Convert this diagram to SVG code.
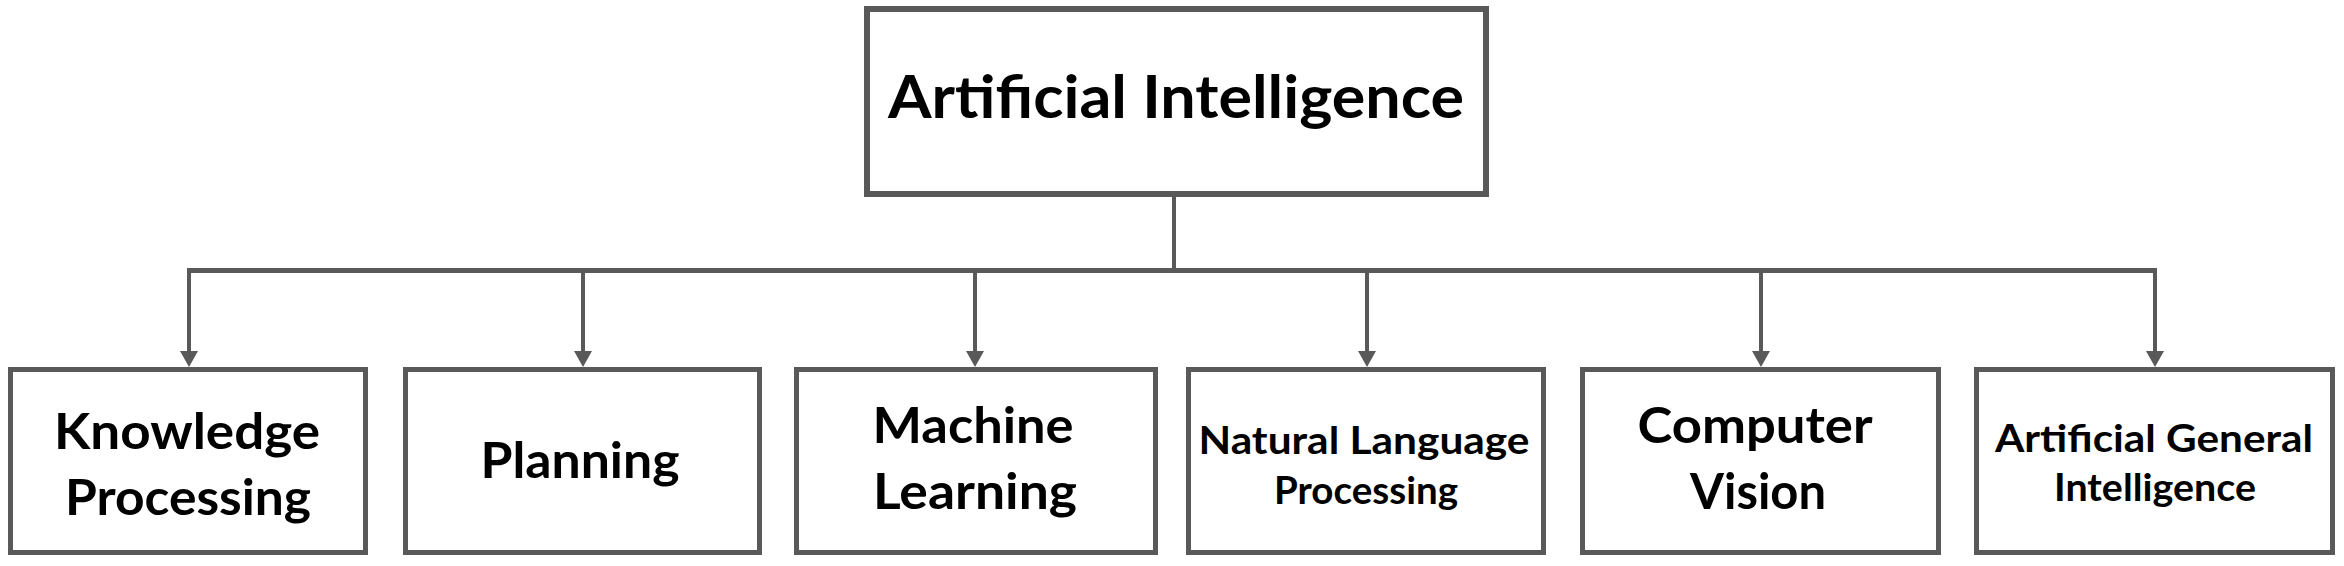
<svg xmlns="http://www.w3.org/2000/svg" width="2344" height="566" viewBox="0 0 2344 566">
<defs>
<style>
.box{fill:#ffffff;stroke:#595959;stroke-width:5}
.top{fill:#ffffff;stroke:#595959;stroke-width:6}
.wire{fill:none;stroke:#595959;stroke-width:4}
.bar{fill:none;stroke:#595959;stroke-width:5}
text{font-family:Lato,"Liberation Sans",sans-serif;font-weight:bold;fill:#000000;text-anchor:middle}
.big{font-size:60px}
.mid{font-size:50px}
.sm{font-size:38px}
</style>
</defs>
<rect width="2344" height="566" fill="#ffffff"/>
<g id="connectors">
<line class="wire" x1="1174" y1="196" x2="1174" y2="270"/>
<line class="bar" x1="187" y1="270.5" x2="2157" y2="270.5"/>
<path class="wire" d="M189,272 V352"/>
<polygon points="180,351 198,351 189,367" fill="#595959"/>
<path class="wire" d="M583,272 V352"/>
<polygon points="574,351 592,351 583,367" fill="#595959"/>
<path class="wire" d="M975,272 V352"/>
<polygon points="966,351 984,351 975,367" fill="#595959"/>
<path class="wire" d="M1367,272 V352"/>
<polygon points="1358,351 1376,351 1367,367" fill="#595959"/>
<path class="wire" d="M1761,272 V352"/>
<polygon points="1752,351 1770,351 1761,367" fill="#595959"/>
<path class="wire" d="M2155,272 V352"/>
<polygon points="2146,351 2164,351 2155,367" fill="#595959"/>
</g>
<g id="ai">
<rect class="top" x="867" y="9" width="619" height="185"/>
<text class="big" x="1176" y="118" textLength="576" lengthAdjust="spacingAndGlyphs">Artificial Intelligence</text>
</g>
<g id="kp">
<rect class="box" x="10.5" y="369.5" width="355" height="183"/>
<text class="mid" x="187" y="449" textLength="266" lengthAdjust="spacingAndGlyphs">Knowledge</text>
<text class="mid" x="188" y="515" textLength="246" lengthAdjust="spacingAndGlyphs">Processing</text>
</g>
<g id="planning">
<rect class="box" x="405.5" y="369.5" width="354" height="183"/>
<text class="mid" x="580" y="478" textLength="199" lengthAdjust="spacingAndGlyphs">Planning</text>
</g>
<g id="ml">
<rect class="box" x="796.5" y="369.5" width="359" height="183"/>
<text class="mid" x="973" y="443" textLength="201" lengthAdjust="spacingAndGlyphs">Machine</text>
<text class="mid" x="975" y="509" textLength="204" lengthAdjust="spacingAndGlyphs">Learning</text>
</g>
<g id="nlp">
<rect class="box" x="1188.5" y="369.5" width="355" height="183"/>
<text class="sm" x="1364" y="454" textLength="331" lengthAdjust="spacingAndGlyphs">Natural Language</text>
<text class="sm" x="1366" y="504" textLength="184" lengthAdjust="spacingAndGlyphs">Processing</text>
</g>
<g id="cv">
<rect class="box" x="1582.5" y="369.5" width="356" height="183"/>
<text class="mid" x="1755" y="443" textLength="235" lengthAdjust="spacingAndGlyphs">Computer</text>
<text class="mid" x="1758" y="509" textLength="136" lengthAdjust="spacingAndGlyphs">Vision</text>
</g>
<g id="agi">
<rect class="box" x="1976.5" y="369.5" width="356" height="183"/>
<text class="sm" x="2154" y="452" textLength="318" lengthAdjust="spacingAndGlyphs">Artificial General</text>
<text class="sm" x="2155" y="501" textLength="202" lengthAdjust="spacingAndGlyphs">Intelligence</text>
</g>
</svg>
